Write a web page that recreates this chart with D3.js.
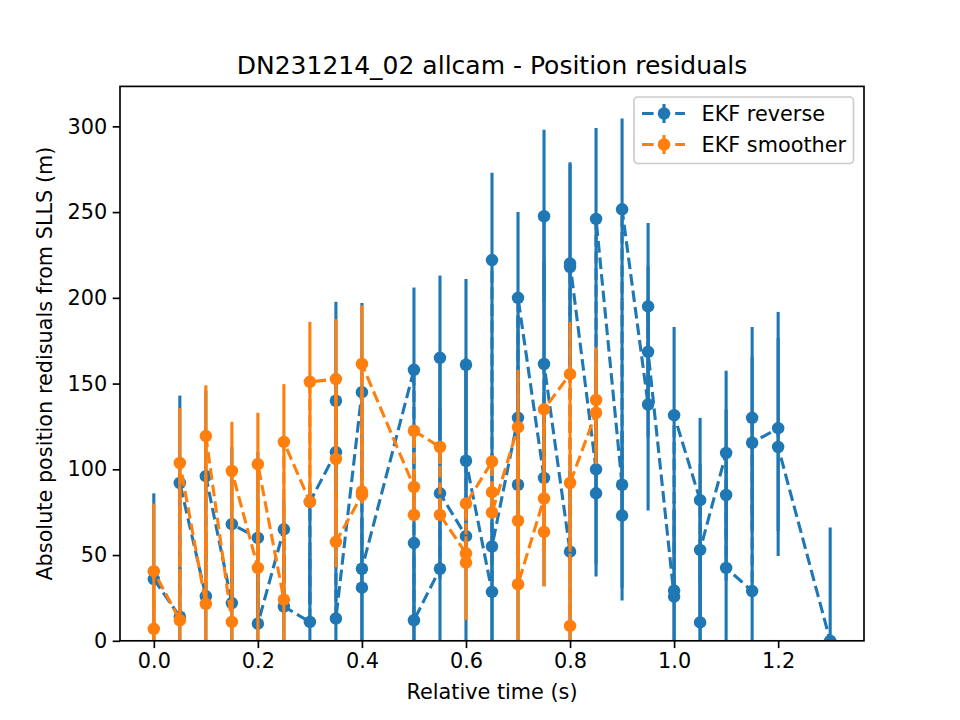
<!DOCTYPE html>
<html>
<head>
<meta charset="utf-8">
<script src="https://cdn.jsdelivr.net/npm/d3@7"></script>
<style>
  body { margin: 0; background: #fff; }
  svg text { font-family: "DejaVu Sans", sans-serif; fill: #000; }
</style>
</head>
<body>
<div id="chart"></div>
<script>
// EKF reverse residuals, in plotting order (time, value, error below, error above)
var reverseTime = [0.0, 0.05, 0.05, 0.1, 0.1, 0.15, 0.15, 0.2, 0.2, 0.25, 0.25, 0.3, 0.3,
  0.35, 0.35, 0.35, 0.4, 0.4, 0.4, 0.5, 0.5, 0.5, 0.55, 0.55, 0.55, 0.6, 0.6, 0.6,
  0.65, 0.65, 0.65, 0.7, 0.7, 0.7, 0.75, 0.75, 0.75, 0.8, 0.8, 0.8, 0.85, 0.85, 0.85,
  0.9, 0.9, 0.9, 0.95, 0.95, 0.95, 1.0, 1.0, 1.0, 1.05, 1.05, 1.05, 1.1, 1.1, 1.1,
  1.15, 1.15, 1.15, 1.2, 1.2, 1.3];
var reverseRes = [36, 14, 92, 26, 96, 22, 68, 60, 10, 65, 20, 11, 81,
  110, 140, 13, 145, 31, 42, 158, 57, 12, 42, 165, 86, 61, 161, 105,
  28.5, 222, 55, 130, 91, 200, 95, 247.6, 161.4, 52, 218, 220, 100, 86, 246,
  91, 73, 251.6, 137.8, 195, 168.5, 25.8, 29.3, 131.6, 82, 10.7, 53, 109.5, 85, 42.5,
  29, 130, 115.5, 124, 113, 0];
var reverseErrLo = [36, 14, 51, 26, 50, 22, 45, 50, 10, 30, 20, 11, 60,
  40, 57, 13, 52, 31, 42, 48, 57, 12, 42, 48, 50, 61, 50, 60,
  28.5, 51, 55, 60, 91, 50, 63, 50, 60, 52, 60, 59, 55, 48.5, 100,
  60, 49.5, 53, 61.8, 48.7, 50, 25.8, 29.3, 51.4, 48, 10.7, 53, 48, 50, 42.5,
  29, 53, 50, 60, 63.5, 0];
var reverseErrHi = [50, 30, 51, 30, 50, 30, 45, 50, 30, 17, 30, 40, 10,
  40, 57.7, 60, 52, 40, 50, 48, 57, 40, 40, 48, 50, 40, 50, 60,
  40, 51, 116, 60, 60, 50, 50, 50.4, 60, 50, 60, 59, 55, 48.5, 53,
  107, 49.5, 53, 61.8, 48.7, 50, 50, 52, 51.4, 48, 40, 50, 48, 50, 50,
  50, 53, 50, 67.8, 63.5, 66];

// EKF smoother residuals
var smootherTime = [0.0, 0.0, 0.05, 0.05, 0.1, 0.1, 0.15, 0.15, 0.2, 0.2, 0.25, 0.25, 0.3, 0.3,
  0.35, 0.35, 0.35, 0.4, 0.4, 0.4, 0.5, 0.5, 0.5, 0.55, 0.55, 0.6, 0.6, 0.6,
  0.65, 0.65, 0.65, 0.7, 0.7, 0.7, 0.75, 0.75, 0.75, 0.8, 0.8, 0.8, 0.85, 0.85];
var smootherRes = [7, 40.6, 12, 103.7, 21.5, 119.4, 11, 99, 42.5, 103, 24, 116, 81, 151,
  152.6, 106, 57.7, 85, 87, 161.4, 89.7, 73.4, 122.5, 113, 73.4, 51, 45.6, 80,
  104.5, 86.7, 74.8, 124.6, 70, 33, 83, 63.5, 135, 155.5, 8.7, 92, 133, 140.4];
var smootherErrLo = [7, 40.6, 12, 60, 21.5, 70, 11, 60, 42.5, 60, 24, 60, 0, 70,
  50, 40, 15, 5, 5, 79, 10, 3, 10, 10, 3, 10, 33.6, 10,
  5, 5, 3, 30, 40, 33, 30, 31.9, 20, 30, 8.7, 40, 30, 30];
var smootherErrHi = [20, 39.4, 30, 32, 40, 29.6, 40, 28.7, 40, 30, 40, 33.7, 0, 35,
  35, 40, 30, 5, 5, 34.2, 10, 10, 2, 2, 10, 10, 10, 2,
  3, 5, 5, 33.4, 40, 40, 30, 31.9, 1, 30.5, 40, 40, 30, 30.6];

var seriesNames = ['EKF reverse', 'EKF smoother'];
var seriesColors = ['#1f77b4', '#ff7f0e'];
var xTicks = [0.0, 0.2, 0.4, 0.6, 0.8, 1.0, 1.2];
var yTicks = [0, 50, 100, 150, 200, 250, 300];

function makeRows(t, v, lo, hi) {
  return t.map(function(d, i) {
    return { t: d, v: v[i], lo: v[i] - lo[i], hi: v[i] + hi[i] };
  });
}
var series = [
  makeRows(reverseTime, reverseRes, reverseErrLo, reverseErrHi),
  makeRows(smootherTime, smootherRes, smootherErrLo, smootherErrHi)
];

var W = 960, H = 720;
var margin = { top: 86.4, right: 96, bottom: 79.2, left: 120 };
var width = W - margin.left - margin.right,
    height = H - margin.top - margin.bottom;

var svg = d3.select('#chart').append('svg')
  .attr('width', W).attr('height', H);

var g = svg.append('g')
  .attr('transform', 'translate(' + margin.left + ',' + margin.top + ')');

var x = d3.scaleLinear().domain([-0.065, 1.365]).range([0, width]);
var y = d3.scaleLinear().domain([0, 323.3]).range([height, 0]);

g.append('clipPath').attr('id', 'clip')
  .append('rect').attr('width', width).attr('height', height);

var plot = g.append('g').attr('clip-path', 'url(#clip)');

var line = d3.line().x(function(d) { return x(d.t); }).y(function(d) { return y(d.v); });

series.forEach(function(rows, k) {
  var col = seriesColors[k];
  var s = plot.append('g');
  // error bars
  s.selectAll('line.err').data(rows).enter().append('line')
    .attr('class', 'err')
    .attr('x1', function(d) { return x(d.t); })
    .attr('x2', function(d) { return x(d.t); })
    .attr('y1', function(d) { return y(d.lo); })
    .attr('y2', function(d) { return y(d.hi); })
    .attr('stroke', col).attr('stroke-width', 3.1);
  // dashed connecting line
  s.append('path').datum(rows)
    .attr('d', line)
    .attr('fill', 'none')
    .attr('stroke', col)
    .attr('stroke-width', 3.1)
    .attr('stroke-dasharray', '11.6,5');
  // markers
  s.selectAll('circle').data(rows).enter().append('circle')
    .attr('cx', function(d) { return x(d.t); })
    .attr('cy', function(d) { return y(d.v); })
    .attr('r', 6.25)
    .attr('fill', col);
});

// axes
var xAxis = d3.axisBottom(x).tickValues(xTicks).tickFormat(d3.format('.1f'))
  .tickSizeInner(7.3).tickSizeOuter(0).tickPadding(5.5);
var yAxis = d3.axisLeft(y).tickValues(yTicks).tickFormat(d3.format('d'))
  .tickSizeInner(7.3).tickSizeOuter(0).tickPadding(5.5);

var gx = g.append('g').attr('transform', 'translate(0,' + height + ')').call(xAxis);
var gy = g.append('g').call(yAxis);
[gx, gy].forEach(function(a) {
  a.select('.domain').remove();
  a.selectAll('.tick line').attr('stroke', '#000').attr('stroke-width', 1.67);
  a.selectAll('.tick text').attr('font-size', '20.8px')
    .attr('font-family', '"DejaVu Sans", sans-serif');
});

// frame
g.append('rect').attr('width', width).attr('height', height)
  .attr('fill', 'none').attr('stroke', '#000').attr('stroke-width', 1.67);

// title and labels
svg.append('text').attr('x', margin.left + width / 2).attr('y', 74)
  .attr('text-anchor', 'middle').attr('font-size', '25px')
  .text('DN231214_02 allcam - Position residuals');
svg.append('text').attr('x', margin.left + width / 2).attr('y', 699)
  .attr('text-anchor', 'middle').attr('font-size', '20.8px')
  .text('Relative time (s)');
svg.append('text')
  .attr('transform', 'translate(52,' + (margin.top + height / 2) + ') rotate(-90)')
  .attr('text-anchor', 'middle').attr('font-size', '20.8px')
  .text('Absolute position redisuals from SLLS (m)');

// legend
var leg = svg.append('g').attr('transform', 'translate(634,97)');
leg.append('rect').attr('width', 219.5).attr('height', 66.5).attr('rx', 4)
  .attr('fill', '#fff').attr('fill-opacity', 0.8)
  .attr('stroke', '#cccccc').attr('stroke-width', 1.67);
seriesNames.forEach(function(name, i) {
  var cy = 16.5 + i * 31;
  var it = leg.append('g').attr('transform', 'translate(0,' + cy + ')');
  it.append('line').attr('x1', 8).attr('x2', 51).attr('y1', 0).attr('y2', 0)
    .attr('stroke', seriesColors[i]).attr('stroke-width', 3.1)
    .attr('stroke-dasharray', '11.6,5');
  it.append('line').attr('x1', 30).attr('x2', 30).attr('y1', -9.5).attr('y2', 9.5)
    .attr('stroke', seriesColors[i]).attr('stroke-width', 3.1);
  it.append('circle').attr('cx', 30).attr('cy', 0).attr('r', 6.25)
    .attr('fill', seriesColors[i]);
  it.append('text').attr('x', 67.5).attr('y', 7.5).attr('font-size', '20.8px')
    .text(name);
});
</script>
</body>
</html>
